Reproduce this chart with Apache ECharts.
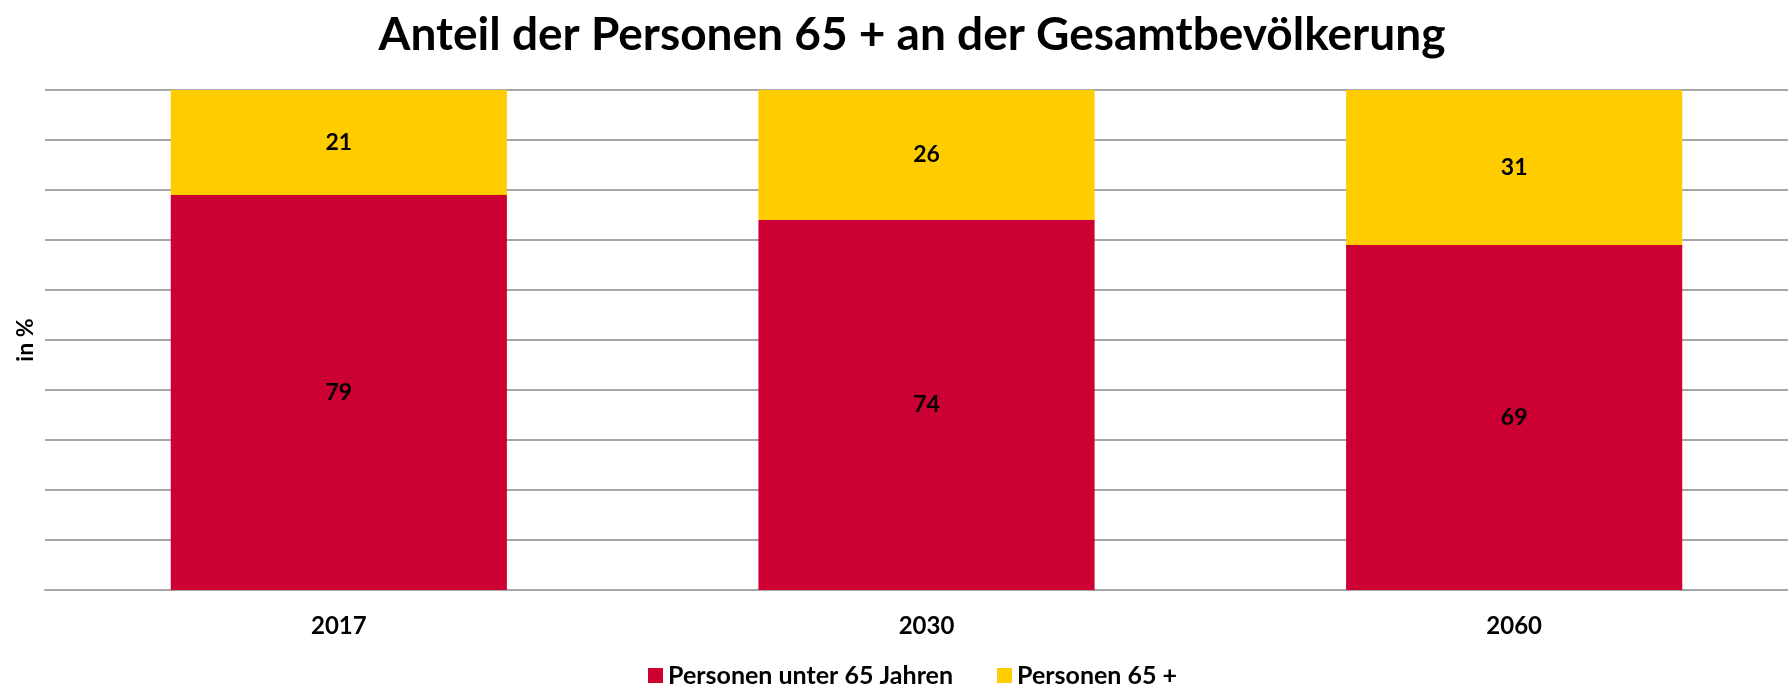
<!DOCTYPE html>
<html><head><meta charset="utf-8">
<script src="https://cdn.jsdelivr.net/npm/echarts@6/dist/echarts.min.js"></script>
<style>html,body{margin:0;padding:0;background:#fff;overflow:hidden}#c{width:1808px;height:689px}</style>
</head><body><div id="c"></div>
<script>
const categories = ['2017', '2030', '2060'];
const under65 = [79, 74, 69];
const over65 = [21, 26, 31];
const seriesNames = ['Personen unter 65 Jahren', 'Personen 65 +'];
const FONT = 'Lato';
const chart = echarts.init(document.getElementById('c'));
const lbl = {show: true, position: 'inside', color: '#000', fontFamily: FONT, fontWeight: 'bold', fontSize: 23};
chart.setOption({
  animation: false,
  title: {text: 'Anteil der Personen 65 + an der Gesamtbevölkerung', left: 907, textAlign: 'center', top: 7,
    textStyle: {fontFamily: FONT, fontWeight: 'bold', fontSize: 46, color: '#000'}},
  legend: {bottom: -4, left: 913, textAlign: 'left', itemWidth: 15, itemHeight: 15, itemGap: 44, icon: 'rect',
    textStyle: {fontFamily: FONT, fontWeight: 'bold', fontSize: 25, color: '#000'}},
  grid: {left: 45, right: 0, top: 90, bottom: 99, containLabel: false},
  xAxis: {type: 'category', data: categories,
    axisLine: {lineStyle: {color: '#a6a6a6', width: 2}}, axisTick: {show: false},
    axisLabel: {fontFamily: FONT, fontWeight: 'bold', fontSize: 24, color: '#000', margin: 24}},
  yAxis: {type: 'value', min: 0, max: 100, interval: 10, name: 'in %', nameLocation: 'middle', nameGap: 8,
    nameTextStyle: {fontFamily: FONT, fontWeight: 'bold', fontSize: 23, color: '#000'},
    axisLabel: {show: false}, axisTick: {show: false}, axisLine: {show: false},
    splitLine: {lineStyle: {color: '#a6a6a6', width: 2}}},
  series: [
    {name: seriesNames[0], type: 'bar', stack: 's', data: under65, barWidth: '57.2%', itemStyle: {color: '#cc0033'}, label: lbl},
    {name: seriesNames[1], type: 'bar', stack: 's', data: over65, barWidth: '57.2%', itemStyle: {color: '#ffcc00'}, label: lbl}
  ]
});
const lg = chart.getModel().getComponent('legend');
const view = chart.getViewOfComponentModel(lg);
if (view && view.group) {
  const r = view.group.getBoundingRect();
  chart.setOption({legend: {left: Math.round(913 - r.width / 2)}});
}
</script></body></html>
